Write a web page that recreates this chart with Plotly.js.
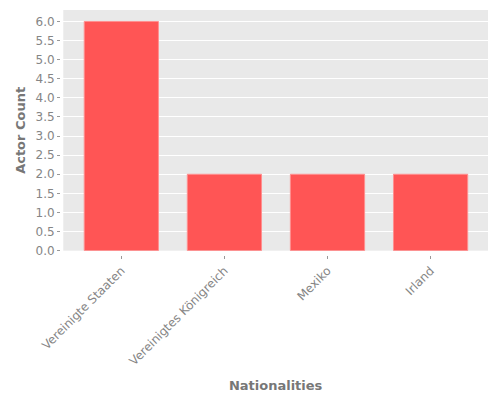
<!DOCTYPE html>
<html>
<head>
<meta charset="utf-8">
<script src="https://cdn.plot.ly/plotly-3.0.1.min.js"></script>
<style>
  html, body { margin: 0; padding: 0; background: #fff; }
  #chart { width: 500px; height: 400px; }
</style>
</head>
<body>
<div id="chart"></div>
<script>
// Actor count per nationality
const nationalities = ['Vereinigte Staaten', 'Vereinigtes Königreich', 'Mexiko', 'Irland'];
const actorCounts   = [6, 2, 2, 2];
const yTickValues   = [0, 0.5, 1, 1.5, 2, 2.5, 3, 3.5, 4, 4.5, 5, 5.5, 6];
const yTickLabels   = ['0.0', '0.5', '1.0', '1.5', '2.0', '2.5', '3.0', '3.5', '4.0', '4.5', '5.0', '5.5', '6.0'];

const GREY_TEXT = '#858585';
const FONT = 'DejaVu Sans, sans-serif';

const trace = {
  type: 'bar',
  x: nationalities,
  y: actorCounts,
  marker: {
    color: '#ff5555',
    line: { color: '#ff8f8f', width: 1 },
  },
  hoverinfo: 'x+y',
};

const layout = {
  width: 500,
  height: 400,
  margin: { l: 60, r: 12, t: 10, b: 145 },
  paper_bgcolor: '#ffffff',
  plot_bgcolor: '#e9e9e9',
  showlegend: false,
  bargap: 0.28,
  font: { family: FONT, size: 12, color: GREY_TEXT },
  xaxis: {
    domain: [0.0077, 1],
    anchor: 'free',
    position: 0,
    range: [-0.563, 3.557],
    tickangle: -45,
    ticks: 'outside',
    ticklen: 3,
    tickwidth: 1,
    tickcolor: '#999',
    showgrid: false,
    zeroline: false,
    showline: false,
    tickfont: { family: FONT, size: 12, color: GREY_TEXT },
    title: { text: 'Nationalities', font: { family: FONT, size: 13, color: '#777', weight: 'bold' }, standoff: 13 },
  },
  yaxis: {
    domain: [0.0176, 1],
    anchor: 'free',
    position: 0,
    range: [0, 6.3],
    tickvals: yTickValues,
    ticktext: yTickLabels,
    ticks: 'outside',
    ticklen: 3,
    tickwidth: 1,
    tickcolor: '#999',
    showgrid: true,
    gridcolor: '#ffffff',
    gridwidth: 1,
    zeroline: false,
    showline: false,
    tickfont: { family: FONT, size: 12, color: GREY_TEXT },
    title: { text: 'Actor Count', font: { family: FONT, size: 13, color: '#777', weight: 'bold' }, standoff: 5 },
  },
};

Plotly.newPlot('chart', [trace], layout, { displayModeBar: false, staticPlot: true });
</script>
</body>
</html>
